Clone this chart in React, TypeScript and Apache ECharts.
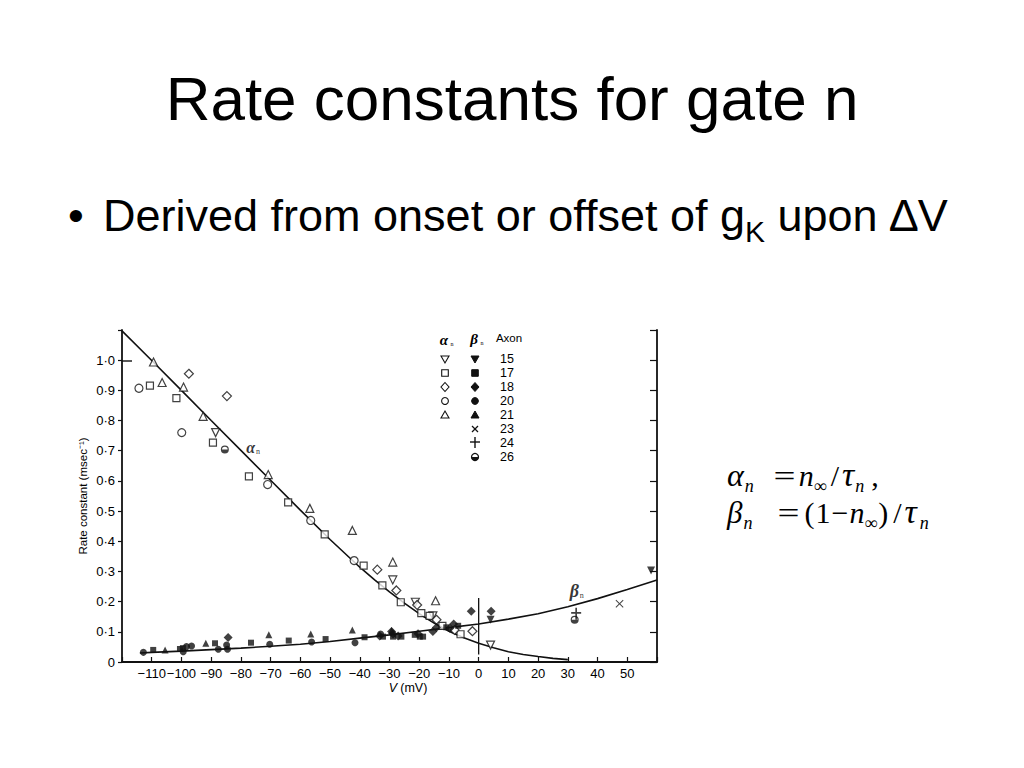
import React, { useEffect, useRef } from "react";
import * as echarts from "echarts";

// ---- Fitted curves ----
const alphaCurve: number[][] = [
  [-120, 1.097], [-110, 0.999], [-100, 0.9], [-90, 0.8], [-80, 0.701], [-70, 0.602], [-60, 0.503],
  [-50, 0.406], [-40, 0.314], [-35, 0.272], [-30, 0.232], [-25, 0.195], [-20, 0.16], [-15, 0.129],
  [-10, 0.102], [-5, 0.08], [0, 0.062], [5, 0.047], [10, 0.034], [15, 0.025], [20, 0.018], [25, 0.012], [30, 0.008],
];
const betaCurve: number[][] = [
  [-114, 0.03], [-110, 0.032], [-100, 0.036], [-90, 0.041], [-80, 0.046], [-70, 0.052], [-60, 0.059],
  [-50, 0.068], [-40, 0.079], [-30, 0.09], [-20, 0.102], [-10, 0.114], [0, 0.126], [10, 0.142],
  [20, 0.16], [30, 0.183], [40, 0.21], [50, 0.24], [60, 0.272],
];
const zeroMarker: number[][] = [[0, 0.212], [0, 0.025]];

// ---- alpha_n (open symbols) by axon ----
const alpha15: number[][] = [[-88.5, 0.76], [-28.9, 0.272], [-21.3, 0.198], [-15.4, 0.153], [4.0, 0.056]];
const alpha17: number[][] = [
  [-110.6, 0.916], [-101.7, 0.874], [-89.4, 0.727], [-77.3, 0.615], [-64.1, 0.529], [-51.8, 0.423],
  [-38.7, 0.319], [-32.4, 0.254], [-26.2, 0.198], [-19.3, 0.162], [-16.5, 0.153], [-12.2, 0.12], [-6.1, 0.092],
];
const alpha18: number[][] = [
  [-97.5, 0.955], [-84.7, 0.881], [-34.1, 0.306], [-27.7, 0.237], [-20.7, 0.189], [-14.2, 0.14],
  [-8.1, 0.106], [-2.1, 0.102],
];
const alpha20: number[][] = [[-114.3, 0.907], [-99.9, 0.76], [-71.0, 0.588], [-56.5, 0.469], [-41.9, 0.336]];
const alpha21: number[][] = [
  [-109.4, 0.994], [-106.5, 0.926], [-99.3, 0.911], [-92.7, 0.814], [-70.8, 0.621], [-56.8, 0.509],
  [-42.5, 0.436], [-28.9, 0.331], [-14.5, 0.203],
];
const alpha26: number[][] = [[-85.4, 0.704]];

// ---- beta_n (filled symbols) by axon ----
const beta15: number[][] = [[4.0, 0.14], [58.0, 0.303]];
const beta17: number[][] = [
  [-109.5, 0.04], [-100.5, 0.043], [-99.5, 0.046], [-88.7, 0.062], [-76.6, 0.064], [-63.9, 0.071],
  [-51.5, 0.076], [-38.4, 0.082], [-32.2, 0.084], [-28.8, 0.084], [-26.0, 0.084], [-21.5, 0.09],
  [-19.8, 0.084], [-18.7, 0.084], [-10.9, 0.115], [-6.9, 0.12],
];
const beta18: number[][] = [
  [-84.3, 0.081], [-33.3, 0.086], [-29.3, 0.101], [-28.8, 0.093], [-27.1, 0.086], [-20.4, 0.094],
  [-15.4, 0.101], [-14.2, 0.114], [-9.7, 0.112], [-8.4, 0.126], [-2.5, 0.168], [4.2, 0.168],
];
const beta20: number[][] = [
  [-112.8, 0.032], [-99.4, 0.034], [-98.3, 0.051], [-96.6, 0.053], [-87.6, 0.042], [-84.8, 0.056],
  [-84.5, 0.042], [-70.3, 0.059], [-56.2, 0.066], [-41.6, 0.064], [-33.0, 0.093],
];
const beta21: number[][] = [[-105.5, 0.04], [-91.8, 0.062], [-70.6, 0.09], [-56.5, 0.093], [-42.5, 0.106], [-29.3, 0.104]];
const beta23: number[][] = [[47.4, 0.193]];
const beta24: number[][] = [[32.8, 0.16]];
const beta26: number[][] = [[32.3, 0.14]];

const alphaLabelAt: number[][] = [[-75.9, 0.715]];
const betaLabelAt: number[][] = [[33.0, 0.239]];

const legendAxons = ["15", "17", "18", "20", "21", "23", "24", "26"];
const legendOpen = ["triDown", "rect", "diamond", "circle", "tri"];
const legendFilled = ["triDown", "rect", "diamond", "circle", "tri", "x", "plus", "half"];

const INK = "#111";
const SANS = "'Liberation Sans', Arial, sans-serif";
const SERIF = "'Liberation Serif', 'Times New Roman', serif";

const HALF = "path://M0,-10A10,10 0 1,1 0,10A10,10 0 1,1 0,-10Z M7,0A7,7 0 0,0 -7,0L7,0Z";
const PLUS = "path://M-1,-7L1,-7L1,7L-1,7Z M-6,-2L6,-2L6,0L-6,0Z";
const CROSS = "path://M-6,-5L-5,-6L6,5L5,6Z M5,-6L6,-5L-5,6L-6,5Z";

function openS(name: string, data: number[][], symbol: string, size: number, rotate = 0) {
  return {
    type: "scatter", name, data, symbol, symbolSize: size, symbolRotate: rotate, z: 4,
    itemStyle: { color: "#fff", borderColor: INK, borderWidth: 1.2 },
  };
}
function filledS(name: string, data: number[][], symbol: string, size: any, rotate = 0) {
  return {
    type: "scatter", name, data, symbol, symbolSize: size, symbolRotate: rotate, z: 5,
    itemStyle: { color: INK },
  };
}

function legendShape(kind: string, cx: number, cy: number, filled: boolean): any {
  const style = filled
    ? { fill: INK, stroke: INK, lineWidth: 1 }
    : { fill: "#fff", stroke: INK, lineWidth: 1.1 };
  switch (kind) {
    case "triDown":
      return { type: "polygon", shape: { points: [[cx - 4, cy - 3], [cx + 4, cy - 3], [cx, cy + 4]] }, style };
    case "tri":
      return { type: "polygon", shape: { points: [[cx - 4, cy + 3], [cx + 4, cy + 3], [cx, cy - 4]] }, style };
    case "rect":
      return { type: "rect", shape: { x: cx - 3.3, y: cy - 3.3, width: 6.6, height: 6.6 }, style };
    case "diamond":
      return { type: "polygon", shape: { points: [[cx, cy - 4.5], [cx + 4, cy], [cx, cy + 4.5], [cx - 4, cy]] }, style };
    case "circle":
      return { type: "circle", shape: { cx, cy, r: 3.4 }, style };
    case "x":
      return {
        type: "group",
        children: [
          { type: "line", shape: { x1: cx - 3, y1: cy - 3, x2: cx + 3, y2: cy + 3 }, style: { stroke: INK, lineWidth: 1.3 } },
          { type: "line", shape: { x1: cx + 3, y1: cy - 3, x2: cx - 3, y2: cy + 3 }, style: { stroke: INK, lineWidth: 1.3 } },
        ],
      };
    case "plus":
      return {
        type: "group",
        children: [
          { type: "line", shape: { x1: cx, y1: cy - 6, x2: cx, y2: cy + 5 }, style: { stroke: INK, lineWidth: 1.4 } },
          { type: "line", shape: { x1: cx - 5, y1: cy - 1, x2: cx + 5, y2: cy - 1 }, style: { stroke: INK, lineWidth: 1.4 } },
        ],
      };
    case "half":
      return {
        type: "group",
        children: [
          { type: "circle", shape: { cx, cy, r: 3.5 }, style: { fill: "#fff", stroke: INK, lineWidth: 1.3 } },
          { type: "sector", shape: { cx, cy, r0: 0, r: 3.5, startAngle: 0, endAngle: Math.PI, clockwise: true }, style: { fill: INK } },
        ],
      };
  }
  return { type: "group", children: [] };
}

function buildGraphic(): any[] {
  const els: any[] = [];
  legendAxons.forEach((ax, i) => {
    const y = 359 + 14 * i;
    if (i < legendOpen.length) els.push(legendShape(legendOpen[i], 445, y, false));
    els.push(legendShape(legendFilled[i], 475, y, true));
    els.push({
      type: "text", x: 507, y,
      style: { text: ax, fill: "#000", fontSize: 12.5, fontFamily: SANS, align: "center", verticalAlign: "middle" },
    });
  });
  els.push({ type: "text", x: 444, y: 340, style: { text: "α", fill: "#000", fontSize: 15, fontStyle: "italic", fontWeight: "bold", fontFamily: SERIF, align: "center", verticalAlign: "middle" } });
  els.push({ type: "text", x: 452, y: 344, style: { text: "n", fill: "#000", fontSize: 6, fontFamily: SERIF, align: "center", verticalAlign: "middle" } });
  els.push({ type: "text", x: 474, y: 339, style: { text: "β", fill: "#000", fontSize: 15, fontStyle: "italic", fontWeight: "bold", fontFamily: SERIF, align: "center", verticalAlign: "middle" } });
  els.push({ type: "text", x: 482, y: 343, style: { text: "n", fill: "#000", fontSize: 6, fontFamily: SERIF, align: "center", verticalAlign: "middle" } });
  els.push({ type: "text", x: 509, y: 338, style: { text: "Axon", fill: "#000", fontSize: 11.5, fontFamily: SANS, align: "center", verticalAlign: "middle" } });
  // axis names
  els.push({
    type: "text", x: 83, y: 496, rotation: Math.PI / 2,
    style: { text: "Rate constant (msec⁻¹)", fill: "#000", fontSize: 11.5, fontFamily: SANS, align: "center", verticalAlign: "middle" },
  });
  els.push({
    type: "text", x: 408, y: 688,
    style: {
      text: "{v|V} {u|(mV)}", fill: "#000", align: "center", verticalAlign: "middle",
      rich: {
        v: { fontSize: 12.5, fontStyle: "italic", fontFamily: SANS, fill: "#000" },
        u: { fontSize: 12.5, fontFamily: SANS, fill: "#000" },
      },
    },
  });
  // inward long tick at 1.0 on left axis
  els.push({ type: "line", shape: { x1: 122, y1: 361, x2: 132, y2: 361 }, style: { stroke: INK, lineWidth: 1.4 } });
  return els;
}

function labelSeries(data: number[][], glyph: string, size: number) {
  return {
    type: "scatter", data, symbolSize: 0.1, itemStyle: { color: "transparent" }, z: 6, silent: true,
    label: {
      show: true, position: "inside",
      formatter: `{g|${glyph}}{s|n}`,
      rich: {
        g: { fontSize: size, fontStyle: "italic", fontWeight: "bold", fontFamily: SERIF, color: "#000", verticalAlign: "bottom", lineHeight: size + 2 },
        s: { fontSize: 8, fontFamily: SERIF, color: "#000", verticalAlign: "bottom", lineHeight: size - 2, padding: [0, 0, 0, 1] },
      },
    },
  };
}

function Chart() {
  const ref = useRef<HTMLDivElement>(null);
  useEffect(() => {
    if (!ref.current) return;
    const chart = echarts.init(ref.current, undefined, { renderer: "svg" });
    const labelFont = { fontFamily: SANS, fontSize: 13, color: "#000" };
    const yFmt = (v: number) => {
      if (Math.abs(v - 1.1) < 1e-6) return "";
      if (Math.abs(v) < 1e-9) return "0";
      return v.toFixed(1).replace(".", "·");
    };
    chart.setOption({
      animation: false,
      backgroundColor: "#fff",
      grid: { left: 122, top: 330, width: 535, height: 332, containLabel: false },
      xAxis: {
        type: "value", min: -120, max: 60, interval: 10,
        axisLine: { show: true, onZero: false, lineStyle: { color: INK, width: 1.8 } },
        axisTick: { show: true, inside: true, length: 5, lineStyle: { color: INK, width: 1.2 } },
        axisLabel: {
          ...labelFont, margin: 5,
          formatter: (v: number) => (v === -120 || v === 60 ? "" : v < 0 ? "−" + Math.abs(v) : String(v)),
        },
        splitLine: { show: false },
      },
      yAxis: [
        {
          type: "value", min: 0, max: 1.1, interval: 0.1, position: "left",
          axisLine: { show: true, onZero: false, lineStyle: { color: INK, width: 1.8 } },
          axisTick: { show: true, inside: false, length: 4, lineStyle: { color: INK, width: 1.2 } },
          axisLabel: { ...labelFont, margin: 7, formatter: yFmt },
          splitLine: { show: false },
        },
        {
          type: "value", min: 0, max: 1.1, interval: 0.1, position: "right",
          axisLine: { show: true, onZero: false, lineStyle: { color: INK, width: 1.8 } },
          axisTick: { show: true, inside: true, length: 7, lineStyle: { color: INK, width: 1.2 } },
          axisLabel: { show: false },
          splitLine: { show: false },
        },
      ],
      series: [
        { type: "line", data: alphaCurve, showSymbol: false, smooth: false, lineStyle: { color: INK, width: 1.6 }, z: 2, silent: true },
        { type: "line", data: betaCurve, showSymbol: false, smooth: false, lineStyle: { color: INK, width: 1.6 }, z: 2, silent: true },
        { type: "line", data: zeroMarker, showSymbol: false, lineStyle: { color: INK, width: 1.3 }, z: 2, silent: true },
        openS("α 15", alpha15, "triangle", 8, 180),
        openS("α 17", alpha17, "rect", 7),
        openS("α 18", alpha18, "diamond", 9),
        openS("α 20", alpha20, "circle", 8),
        openS("α 21", alpha21, "triangle", 8),
        filledS("α 26", alpha26, HALF, 8),
        filledS("β 15", beta15, "triangle", 8, 180),
        filledS("β 17", beta17, "rect", 6),
        filledS("β 18", beta18, "diamond", 9),
        filledS("β 20", beta20, "circle", 7),
        filledS("β 21", beta21, "triangle", 7),
        filledS("β 23", beta23, CROSS, 8),
        filledS("β 24", beta24, PLUS, [10, 12]),
        filledS("β 26", beta26, HALF, 8),
        labelSeries(alphaLabelAt, "α", 16),
        labelSeries(betaLabelAt, "β", 18),
      ],
      graphic: buildGraphic(),
    });
    return () => chart.dispose();
  }, []);
  return <div ref={ref} style={{ position: "absolute", left: 0, top: 0, width: 1024, height: 768 }} />;
}

// ---- formula helpers (inline flow, no overlaps) ----
function I(props: { c: string; ml?: number; fs?: number }) {
  return <span style={{ fontStyle: "italic", marginLeft: props.ml || 0, fontSize: props.fs || 30 }}>{props.c}</span>;
}
function Sb(props: { c: string; ml?: number; it?: boolean }) {
  return (
    <span style={{ fontSize: 18, position: "relative", top: 6, marginLeft: props.ml || 0, fontStyle: props.it === false ? "normal" : "italic" }}>
      {props.c}
    </span>
  );
}
function U(props: { c: string; ml?: number }) {
  return <span style={{ marginLeft: props.ml || 0 }}>{props.c}</span>;
}
function Eq(props: { ml?: number }) {
  return (
    <span style={{ display: "inline-block", width: 21, textAlign: "center", marginLeft: props.ml || 0, transform: "scaleX(1.3)" }}>=</span>
  );
}

const formulaLine: React.CSSProperties = {
  position: "absolute", left: 727, fontFamily: SERIF, fontSize: 30, lineHeight: "30px",
  whiteSpace: "nowrap", color: "#000",
};

export default function App() {
  return (
    <div style={{ position: "absolute", left: 0, top: 0, width: 1024, height: 768, background: "#fff", overflow: "hidden" }}>
      <Chart />
      <div style={{ position: "absolute", left: 0, top: 68, width: 1024, textAlign: "center", fontFamily: SANS, fontSize: 62, lineHeight: "62px", color: "#000" }}>
        Rate constants for gate n
      </div>
      <div style={{ position: "absolute", left: 68, top: 193, fontFamily: SANS, fontSize: 45, lineHeight: "45px", color: "#000" }}>•</div>
      <div style={{ position: "absolute", left: 103, top: 193, fontFamily: SANS, fontSize: 45, lineHeight: "45px", color: "#000", whiteSpace: "nowrap" }}>
        Derived from onset or offset of g
        <span style={{ fontSize: 30, position: "relative", top: 11 }}>K</span> upon ∆V
      </div>
      <div style={{ ...formulaLine, top: 460 }}>
        <I c="α" fs={32} />
        <Sb c="n" ml={1} />
        <Eq ml={20} />
        <I c="n" ml={4} />
        <Sb c="∞" it={false} />
        <U c="/" ml={4} />
        <I c="τ" ml={3} fs={34} />
        <Sb c="n" ml={1} />
        <U c="," ml={7} />
      </div>
      <div style={{ ...formulaLine, top: 497 }}>
        <I c="β" fs={31} />
        <Sb c="n" ml={1} />
        <Eq ml={26} />
        <U c="(" ml={5} />
        <U c="1" ml={1} />
        <U c="−" ml={1} />
        <I c="n" ml={1} />
        <Sb c="∞" it={false} />
        <U c=")" ml={1} />
        <U c="/" ml={5} />
        <I c="τ" ml={3} fs={34} />
        <Sb c="n" ml={3} />
      </div>
    </div>
  );
}
